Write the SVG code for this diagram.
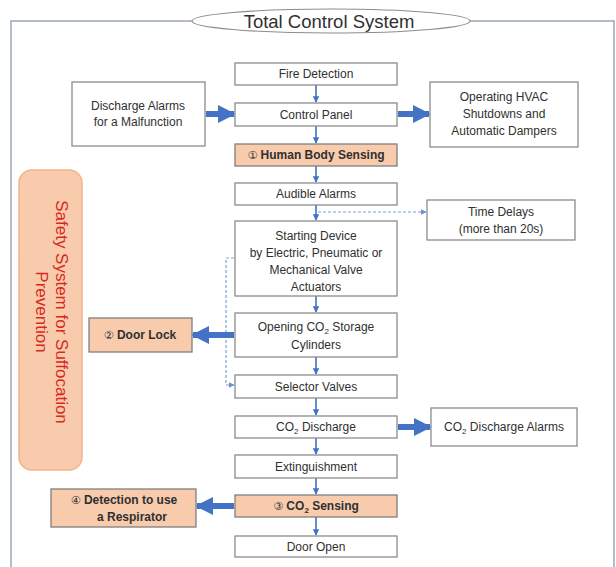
<svg xmlns="http://www.w3.org/2000/svg" width="616" height="567" viewBox="0 0 616 567">
<defs>
<style>
.box{fill:#fff;stroke:#8c8c8c;stroke-width:1.3}
.hl{fill:#f8cbad;stroke:#7f7f7f;stroke-width:1.3}
text{font-family:"Liberation Sans","DejaVu Sans",sans-serif;font-size:12px;fill:#303030;text-anchor:middle}
.b{font-weight:bold}
.n{font-weight:normal;font-size:11px}
.thin{stroke:#4472c4;stroke-width:1.6;fill:none}
.thick{stroke:#4472c4;stroke-width:6;fill:none}
.dash{stroke:#7f9fd6;stroke-width:1.2;fill:none;stroke-dasharray:3 2}
.sub{font-size:8px}
.red{font-size:17px;fill:#d9291f}
</style>
<marker id="ah" viewBox="0 0 10 10" refX="9" refY="5" markerWidth="4" markerHeight="4" orient="auto" markerUnits="strokeWidth"><path d="M0,0 L10,5 L0,10 z" fill="#4472c4"/></marker>
<marker id="ahd" viewBox="0 0 10 10" refX="9" refY="5" markerWidth="5" markerHeight="5" orient="auto" markerUnits="strokeWidth"><path d="M0,0 L10,5 L0,10 z" fill="#6f8fd0"/></marker>
<marker id="ahk" viewBox="0 0 10 10" refX="9" refY="5" markerWidth="3" markerHeight="3.2" orient="auto" markerUnits="strokeWidth"><path d="M0,0 L10,5 L0,10 z" fill="#4472c4"/></marker>
</defs>
<rect width="616" height="567" fill="#fff"/>
<g id="frame">
<path d="M11,567 V21 H614 V567" fill="none" stroke="#9aa8b8" stroke-width="1.5"/>
</g>
<g id="title">
<ellipse cx="331" cy="21" rx="139" ry="12" fill="#fff" stroke="#8c8c8c" stroke-width="1.2"/>
<text x="329" y="28" style="font-size:18.5px">Total Control System</text>
</g>
<g id="connectors">
<path class="thin" d="M316,85 V102" marker-end="url(#ah)"/>
<path class="thin" d="M316,126 V143" marker-end="url(#ah)"/>
<path class="thin" d="M316,166 V182" marker-end="url(#ah)"/>
<path class="thin" d="M316,205 V220" marker-end="url(#ah)"/>
<path class="thin" d="M316,296 V312" marker-end="url(#ah)"/>
<path class="thin" d="M316,357 V374" marker-end="url(#ah)"/>
<path class="thin" d="M316,398 V415" marker-end="url(#ah)"/>
<path class="thin" d="M316,438 V454" marker-end="url(#ah)"/>
<path class="thin" d="M316,478 V494" marker-end="url(#ah)"/>
<path class="thin" d="M316,517 V535" marker-end="url(#ah)"/>
<path class="dash" d="M318,212 H426" marker-end="url(#ahd)"/>
<path class="dash" d="M234,258 H226 V385 H234" marker-end="url(#ahd)"/>
<path class="thick" d="M206,114 H234" marker-end="url(#ahk)"/>
<path class="thick" d="M398,114 H429" marker-end="url(#ahk)"/>
<path class="thick" d="M234,335 H193" marker-end="url(#ahk)"/>
<path class="thick" d="M398,427 H430" marker-end="url(#ahk)"/>
<path class="thick" d="M234,506 H197" marker-end="url(#ahk)"/>
</g>
<g id="fire-detection"><rect class="box" x="235" y="63" width="162" height="22"/><text x="316" y="78">Fire Detection</text></g>
<g id="control-panel"><rect class="box" x="235" y="103" width="162" height="23"/><text x="316" y="119">Control Panel</text></g>
<g id="discharge-alarms"><rect class="box" x="72" y="82" width="133" height="64"/><text x="138" y="110">Discharge Alarms</text><text x="138" y="126">for a Malfunction</text></g>
<g id="hvac"><rect class="box" x="430" y="82" width="148" height="65"/><text x="504" y="101">Operating HVAC</text><text x="504" y="118">Shutdowns and</text><text x="504" y="135">Automatic Dampers</text></g>
<g id="human-body"><rect class="hl" x="235" y="144" width="162" height="22"/><text class="b" x="316" y="159"><tspan class="n">①</tspan>   Human Body Sensing</text></g>
<g id="audible"><rect class="box" x="235" y="183" width="162" height="22"/><text x="316" y="198">Audible Alarms</text></g>
<g id="time-delays"><rect class="box" x="427" y="200" width="148" height="40"/><text x="501" y="216">Time Delays</text><text x="501" y="233">(more than 20s)</text></g>
<g id="starting-device"><rect class="box" x="235" y="221" width="162" height="75"/><text x="316" y="240">Starting Device</text><text x="316" y="257">by Electric, Pneumatic or</text><text x="316" y="274">Mechanical Valve</text><text x="316" y="291">Actuators</text></g>
<g id="opening-co2"><rect class="box" x="235" y="313" width="162" height="44"/><text x="316" y="331">Opening CO<tspan class="sub" dy="3">2</tspan><tspan dy="-3"> Storage</tspan></text><text x="316" y="349">Cylinders</text></g>
<g id="door-lock"><rect class="hl" x="89" y="318" width="103" height="34"/><text class="b" x="140" y="339"><tspan class="n">②</tspan>   Door Lock</text></g>
<g id="selector"><rect class="box" x="235" y="375" width="162" height="23"/><text x="316" y="391">Selector Valves</text></g>
<g id="co2-discharge"><rect class="box" x="235" y="416" width="162" height="22"/><text x="316" y="431">CO<tspan class="sub" dy="3">2</tspan><tspan dy="-3"> Discharge</tspan></text></g>
<g id="co2-alarms"><rect class="box" x="431" y="408" width="146" height="38"/><text x="504" y="431">CO<tspan class="sub" dy="3">2</tspan><tspan dy="-3"> Discharge Alarms</tspan></text></g>
<g id="extinguishment"><rect class="box" x="235" y="455" width="162" height="23"/><text x="316" y="471">Extinguishment</text></g>
<g id="co2-sensing"><rect class="hl" x="235" y="495" width="162" height="22"/><text class="b" x="316" y="510"><tspan class="n">③</tspan>    CO<tspan class="sub" dy="3">2</tspan><tspan dy="-3"> Sensing</tspan></text></g>
<g id="respirator"><rect class="hl" x="51" y="489" width="145" height="38"/><text class="b" x="124" y="504"><tspan class="n">④</tspan>   Detection to use</text><text class="b" x="132" y="521">a Respirator</text></g>
<g id="door-open"><rect class="box" x="235" y="536" width="162" height="21"/><text x="316" y="551">Door Open</text></g>
<g id="safety-system">
<rect x="19" y="170" width="63" height="300" rx="13" fill="#f8cbad" stroke="#f2b28a" stroke-width="1.5"/>
<g transform="translate(50,312) rotate(90)">
<text class="red" x="0" y="-6">Safety System for Suffocation</text>
<text class="red" x="0" y="14">Prevention</text>
</g>
</g>
</svg>
